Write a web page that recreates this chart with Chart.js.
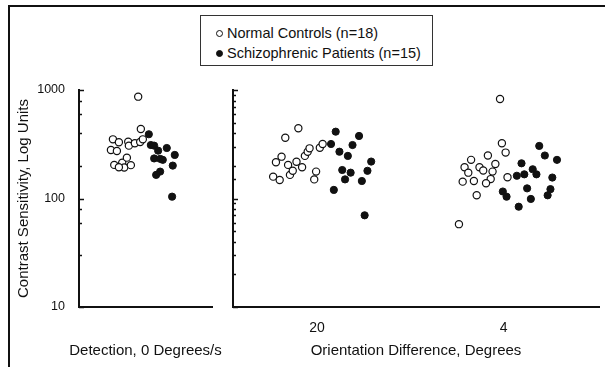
<!DOCTYPE html>
<html>
<head>
<meta charset="utf-8">
<script src="https://cdn.jsdelivr.net/npm/chart.js@4.4.1/dist/chart.umd.min.js"></script>
<style>
  html, body { margin: 0; padding: 0; background: #fff; }
  body { width: 605px; height: 367px; position: relative; overflow: hidden; }
  .frame { position: absolute; left: 8px; top: 5px; width: 700px; height: 400px; border-left: 2px solid #111; border-top: 2px solid #111; }
  canvas { position: absolute; left: 0; top: 0; }
  .legend { position: absolute; left: 200px; top: 15px; width: 231px; height: 49px; border: 1px solid #333; background: #fff;
    font-family: "Liberation Sans", Arial, sans-serif; font-size: 14.5px; color: #111; }
  .legend div { position: absolute; left: 15px; white-space: nowrap; line-height: 20px; }
  .legend span { display: inline-block; width: 7px; height: 7px; border-radius: 50%; border: 1px solid #111; margin-right: 4px; vertical-align: 1px; box-sizing: border-box; }
</style>
</head>
<body>
<div class="frame"></div>
<canvas id="detChart" width="605" height="367"></canvas>
<canvas id="oriChart" width="605" height="367"></canvas>
<div class="legend">
  <div style="top:7px"><span></span>Normal Controls (n=18)</div>
  <div style="top:27px"><span style="background:#111"></span>Schizophrenic Patients (n=15)</div>
</div>
<script>
document.addEventListener("DOMContentLoaded", function () {
  const ink = "#111";
  const font = "'Liberation Sans', Arial, sans-serif";

  const yLabels = [10, 100, 1000];
  const orientCats = ["20", "4"];
  const detTitle = "Detection, 0 Degrees/s";

  // Detection, 0 deg/s  (x = horizontal jitter around the category)
  const detNormalX = [-0.11, -0.07, -0.49, -0.40, -0.52, -0.43, -0.26, -0.25, -0.16, -0.08, -0.04, -0.47, -0.38, -0.35, -0.28, -0.32, -0.22, -0.40];
  const detNormalY = [868, 437, 351, 330, 280, 274, 334, 307, 323, 332, 351, 204, 199, 214, 238, 193, 203, 194];
  const detPatientX = [0.05, 0.08, 0.13, 0.19, 0.32, 0.13, 0.22, 0.26, 0.44, 0.41, 0.22, 0.16, 0.40];
  const detPatientY = [391, 311, 307, 276, 292, 234, 232, 227, 252, 201, 177, 165, 104];

  // Orientation difference 20 deg
  const o20NormalX = [-0.235, -0.20, -0.22, -0.19, -0.17, -0.10, -0.155, -0.145, -0.11, -0.13, -0.08, -0.065, -0.05, -0.04, 0.015, 0.03, -0.005, -0.015];
  const o20NormalY = [159, 148, 216, 243, 363, 444, 204, 165, 218, 180, 194, 247, 270, 290, 294, 318, 177, 150];
  const o20PatientX = [0.10, 0.075, 0.12, 0.165, 0.19, 0.225, 0.29, 0.135, 0.18, 0.15, 0.27, 0.24, 0.09, 0.255];
  const o20PatientY = [413, 318, 270, 247, 311, 377, 219, 183, 173, 150, 180, 145, 120, 70];

  // Orientation difference 4 deg
  const o4NormalX = [-0.02, -0.01, 0.01, -0.085, -0.175, -0.21, -0.19, -0.13, -0.11, -0.045, -0.06, -0.07, -0.095, -0.16, -0.22, 0.02, -0.145, -0.24];
  const o4NormalY = [826, 323, 265, 249, 227, 194, 173, 194, 181, 208, 177, 151, 138, 145, 143, 157, 107, 58];
  const o4PatientX = [0.19, 0.22, 0.285, 0.095, 0.155, 0.175, 0.11, 0.07, 0.26, 0.125, 0.25, 0.235, -0.005, 0.015, 0.145, 0.08];
  const o4PatientY = [305, 249, 227, 211, 186, 167, 167, 162, 156, 124, 122, 107, 116, 104, 99, 84];

  const pts = (cat, xs, ys) => xs.map((x, i) => ({ x: cat + x, y: ys[i] }));
  const open = { backgroundColor: "#fff", borderColor: ink, borderWidth: 1.2, pointRadius: 3.6 };
  const filled = { backgroundColor: ink, borderColor: ink, borderWidth: 1, pointRadius: 3.6 };

  // inward tick marks on the log axis
  const innerTicks = {
    id: "innerTicks",
    afterDraw(chart) {
      const y = chart.scales.y;
      const ctx = chart.ctx;
      ctx.save();
      ctx.strokeStyle = ink;
      ctx.lineWidth = 1.5;
      y.ticks.forEach((t) => {
        const py = Math.round(y.getPixelForValue(t.value)) + 0.5;
        const len = yLabels.includes(t.value) ? 5 : 3;
        ctx.beginPath();
        ctx.moveTo(y.right, py);
        ctx.lineTo(y.right + len, py);
        ctx.stroke();
      });
      ctx.restore();
    },
  };

  // the detection axis is narrower than its caption, so draw the caption unclipped
  const detCaption = {
    id: "detCaption",
    afterDraw(chart) {
      const x = chart.scales.x;
      const ctx = chart.ctx;
      ctx.save();
      ctx.fillStyle = ink;
      ctx.font = "15px " + font;
      ctx.textAlign = "center";
      ctx.textBaseline = "middle";
      ctx.fillText(detTitle, (x.left + x.right) / 2, x.bottom - 16);
      ctx.restore();
    },
  };

  const yScale = (showLabels, width) => ({
    type: "logarithmic",
    min: 10,
    max: 1000,
    afterFit: (s) => { s.width = width; },
    grid: { display: false },
    border: { display: true, color: ink, width: 2 },
    title: {
      display: showLabels,
      text: "Contrast Sensitivity, Log Units",
      color: ink,
      font: { family: font, size: 15 },
      padding: { top: 15, bottom: 0 },
    },
    ticks: {
      display: showLabels,
      color: ink,
      padding: 6,
      font: { family: font, size: 12.5 },
      callback: (v) => (yLabels.includes(v) ? String(v) : ""),
    },
  });

  const common = {
    responsive: false,
    animation: false,
    plugins: { legend: { display: false }, tooltip: { enabled: false } },
  };

  new Chart(document.getElementById("detChart"), {
    type: "scatter",
    data: {
      datasets: [
        { data: pts(0, detNormalX, detNormalY), ...open },
        { data: pts(0, detPatientX, detPatientY), ...filled },
      ],
    },
    options: {
      ...common,
      layout: { padding: { left: 0, top: 90, right: 393, bottom: 0 } },
      scales: {
        x: {
          type: "linear",
          min: -1,
          max: 1,
          afterFit: (s) => { s.height = 60; },
          grid: { display: false },
          border: { display: true, color: ink, width: 2 },
          ticks: { display: false },
        },
        y: yScale(true, 79),
      },
    },
    plugins: [innerTicks, detCaption],
  });

  new Chart(document.getElementById("oriChart"), {
    type: "scatter",
    data: {
      datasets: [
        { data: pts(0, o20NormalX, o20NormalY), ...open },
        { data: pts(0, o20PatientX, o20PatientY), ...filled },
        { data: pts(1, o4NormalX, o4NormalY), ...open },
        { data: pts(1, o4PatientX, o4PatientY), ...filled },
      ],
    },
    options: {
      ...common,
      layout: { padding: { left: 233, top: 90, right: 6, bottom: 0 } },
      scales: {
        x: {
          type: "linear",
          min: -0.45,
          max: 1.51,
          afterFit: (s) => { s.height = 60; },
          afterBuildTicks: (s) => { s.ticks = orientCats.map((_, i) => ({ value: i })); },
          grid: { display: false },
          border: { display: true, color: ink, width: 2 },
          ticks: { color: ink, padding: 5, font: { family: font, size: 14 }, callback: (v) => orientCats[v] ?? "" },
          title: { display: true, text: "Orientation Difference, Degrees", color: ink, font: { family: font, size: 15 }, padding: { top: 0, bottom: 7 } },
        },
        y: yScale(false, 0),
      },
    },
    plugins: [innerTicks],
  });
});
</script>
</body>
</html>
